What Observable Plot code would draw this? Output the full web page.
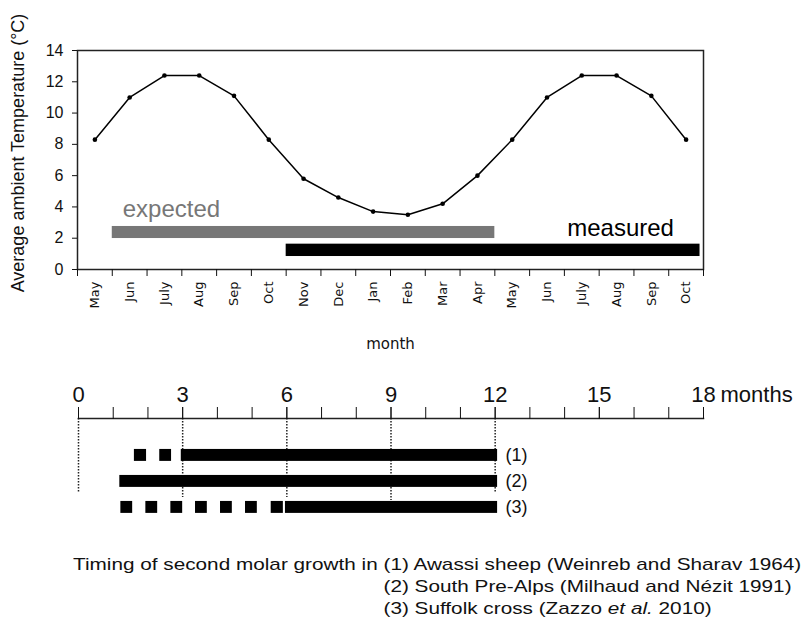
<!DOCTYPE html>
<html>
<head>
<meta charset="utf-8">
<script src="https://cdn.jsdelivr.net/npm/d3@7"></script>
<script src="https://cdn.jsdelivr.net/npm/@observablehq/plot@0.6"></script>
<style>
  html, body { margin: 0; padding: 0; background: #fff; }
  #wrap { position: relative; width: 805px; height: 626px; overflow: hidden; font-family: "Liberation Sans", Arial, sans-serif; }
  #topPanel, #bottomPanel { position: absolute; left: 0; }
  #topPanel { top: 0; }
  #bottomPanel { top: 370px; }
  #caption { position: absolute; left: 73px; top: 554px; font-size: 17px; line-height: 22px; white-space: nowrap;
             display: flex; transform: scaleX(1.22); transform-origin: left top; color: #111; }
</style>
</head>
<body>
<div id="wrap">
  <div id="topPanel"></div>
  <div id="bottomPanel"></div>
  <div id="caption"></div>
</div>
<script>
// ---- data: top panel ----
const months = ["May","Jun","July","Aug","Sep","Oct","Nov","Dec","Jan","Feb","Mar","Apr","May","Jun","July","Aug","Sep","Oct"];
const temps  = [8.3, 11.0, 12.4, 12.4, 11.1, 8.3, 5.8, 4.6, 3.7, 3.5, 4.2, 6.0, 8.3, 11.0, 12.4, 12.4, 11.1, 8.3];
const yTicks = [0, 2, 4, 6, 8, 10, 12, 14];
const periodNames  = ["expected", "measured"];
const periodStart  = [1, 6];      // month index (boundary)
const periodEnd    = [12, 17.9];
const periodLow    = [1.98, 0.83];
const periodHigh   = [2.75, 1.62];
const periodColors = ["#777777", "#000000"];
const yLabel = "Average ambient Temperature (°C)";
const xLabel = "month";

// ---- data: bottom panel ----
const ageTicks = [0,1,2,3,4,5,6,7,8,9,10,11,12,13,14,15,16,17,18];
const ageLabels = [0, 3, 6, 9, 12, 15, 18];
const guideAges = [0, 3, 6, 9, 12];
const guideEnds = [2.46, 2.62, 2.62, 2.73, 2.46];
const rowNames = ["(1)", "(2)", "(3)"];
const segRow   = [1, 1, 1, 2, 3, 3, 3, 3, 3, 3, 3, 3];
const segStart = [1.61, 2.34, 2.96, 1.19, 1.22, 1.94, 2.66, 3.37, 4.09, 4.81, 5.55, 5.96];
const segEnd   = [1.96, 2.68, 12.07, 12.07, 1.56, 2.28, 3.0, 3.71, 4.43, 5.15, 5.9, 12.07];
const captionLead = "Timing of second molar growth in";
const captionLines = [
  "(1) Awassi sheep (Weinreb and Sharav 1964)",
  "(2) South Pre-Alps (Milhaud and Nézit 1991)",
  "(3) Suffolk cross (Zazzo <i>et al.</i> 2010)"
];

// ---- tables ----
const tempData = months.map((m, i) => ({i, month: m, x: i + 0.5, t: temps[i]}));
const periods = periodNames.map((n, i) => ({name: n, x1: periodStart[i], x2: periodEnd[i], y1: periodLow[i], y2: periodHigh[i], color: periodColors[i]}));
const segs = segRow.map((r, i) => ({row: r, x1: segStart[i], x2: segEnd[i]}));
const guides = guideAges.map((a, i) => ({x: a, y2: guideEnds[i]}));
const rows = rowNames.map((n, i) => ({name: n, row: i + 1}));
const FONT = "Liberation Sans, Arial, sans-serif";

const topChart = Plot.plot({
  width: 805, height: 370,
  marginLeft: 77, marginRight: 102, marginTop: 50, marginBottom: 101,
  style: {fontFamily: FONT, color: "#111", background: "white", overflow: "visible"},
  x: {domain: [0, 18]},
  y: {domain: [0, 14]},
  marks: [
    Plot.rect(periods, {x1: "x1", x2: "x2", y1: "y1", y2: "y2", fill: "color"}),
    Plot.text([periods[0]], {x: d => d.x1 + 0.3, y: d => d.y2, dy: -9, text: "name", textAnchor: "start", lineAnchor: "bottom", fill: "#777777", fontSize: 24}),
    Plot.text([periods[1]], {x: d => d.x2 - 0.75, y: d => d.y2, dy: -8, text: "name", textAnchor: "end", lineAnchor: "bottom", fill: "#000", fontSize: 24}),
    Plot.line(tempData, {x: "x", y: "t", stroke: "#000", strokeWidth: 1.5}),
    Plot.dot(tempData, {x: "x", y: "t", r: 2.3, fill: "#000"}),
    Plot.frame({stroke: "#222", strokeWidth: 1.5}),
    Plot.axisY(yTicks, {tickSize: 5, tickPadding: 9, fontSize: 16, label: null}),
    Plot.axisX(d3.range(0, 19), {tickSize: 7, tickFormat: () => "", label: null}),
    Plot.axisX(tempData.map(d => d.x), {tickSize: 0, tickPadding: 12, tickRotate: -90, tickFormat: d => months[Math.floor(d)], fontSize: 13, fontFamily: "DejaVu Sans", label: null}),
    Plot.text([yLabel], {frameAnchor: "left", dx: -59, dy: -7, rotate: -90, textAnchor: "middle", fontSize: 18, text: d => d}),
    Plot.text([xLabel], {frameAnchor: "bottom", dy: 79, fontSize: 15, fontFamily: "DejaVu Sans", text: d => d})
  ]
});
document.getElementById("topPanel").appendChild(topChart);

const bottomChart = Plot.plot({
  width: 805, height: 160,
  marginLeft: 78, marginRight: 102, marginTop: 48, marginBottom: 8,
  style: {fontFamily: FONT, color: "#111", background: "white", overflow: "visible"},
  x: {domain: [0, 18]},
  y: {domain: [-0.42, 3.58], reverse: true, axis: null},
  marks: [
    Plot.ruleX(guides, {x: "x", y1: -0.42, y2: "y2", stroke: "#222", strokeWidth: 1.5, strokeDasharray: "1.5,1.5"}),
    Plot.rect(segs, {x1: "x1", x2: "x2", y1: d => d.row - 0.23, y2: d => d.row + 0.23, fill: "#000"}),
    Plot.text(rows, {x: d3.max(segEnd), y: "row", text: "name", dx: 8, textAnchor: "start", fontSize: 18}),
    Plot.frame({anchor: "top", stroke: "#222", strokeWidth: 1.5}),
    Plot.axisX(ageTicks, {anchor: "top", tickSize: 12, tickFormat: () => "", label: null}),
    Plot.axisX(ageLabels, {anchor: "top", tickSize: 12, tickPadding: 5, fontSize: 22, label: null}),
    Plot.text(["months"], {x: d3.max(ageLabels), frameAnchor: "top", dy: -17, dx: 17, lineAnchor: "bottom", textAnchor: "start", fontSize: 22, text: d => d})
  ]
});
document.getElementById("bottomPanel").appendChild(bottomChart);

const cap = document.getElementById("caption");
const lead = document.createElement("div");
lead.textContent = captionLead + "\u00a0";
const rest = document.createElement("div");
rest.innerHTML = captionLines.join("<br>");
cap.appendChild(lead);
cap.appendChild(rest);
</script>
</body>
</html>
